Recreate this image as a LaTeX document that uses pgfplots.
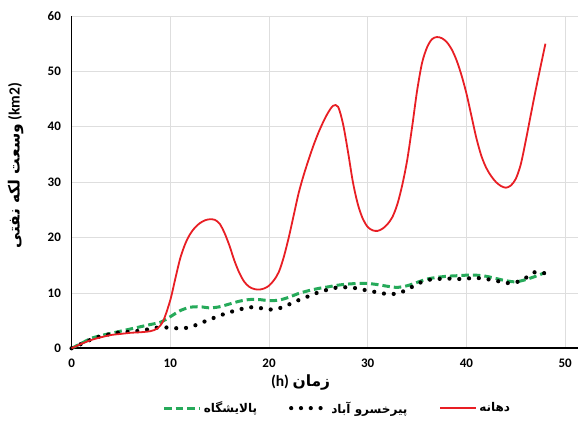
\documentclass[border=0pt]{standalone}
\usepackage{fontspec}
\setmainfont{Carlito}
\newfontfamily\fa[Script=Arabic]{DejaVu Sans}
\TeXXeTstate=1
\usepackage{pgfplots}
\pgfplotsset{compat=1.18}

\definecolor{redline}{RGB}{232,30,36}
\definecolor{greenline}{RGB}{38,170,90}
\definecolor{gridgray}{RGB}{222,222,222}

\begin{document}
\begin{tikzpicture}
\begin{axis}[
  scale only axis,
  width=506pt, height=332pt,
  xmin=0, xmax=51.3, ymin=0, ymax=60,
  xtick={0,10,...,50}, ytick={0,10,...,60},
  axis lines=left,
  axis line style={-, line width=1.6pt, black},
  tick style={draw=none},
  grid=major,
  major grid style={draw=gridgray, line width=0.8pt},
  /pgf/number format/assume math mode=true,
  tick label style={font=\fontsize{13}{15}\selectfont\bfseries, black},
  xticklabel style={yshift=-5pt},
  yticklabel style={xshift=-5pt},
  clip=false,
  legend columns=3,
  legend style={at={(0.525,-0.18)}, anchor=center, draw=none, fill=none,
    font=\fontsize{12}{14}\selectfont\bfseries,
    /tikz/every even column/.append style={column sep=30pt}},
  legend image code/.code={\draw[#1] (0pt,0pt) -- (36pt,0pt);},
]
% refinery
\addplot[greenline, line width=3pt, dash pattern=on 7.5pt off 4pt, smooth] coordinates {
 (0,0) (1,0.9) (2,1.8) (3,2.3) (4,2.7) (5,3.1) (6,3.5) (7,3.9) (8,4.3) (9,4.7)
 (10,5.7) (11,6.8) (12,7.4) (13,7.5) (14,7.3) (15,7.5) (16,8.0) (17,8.5) (18,8.8)
 (19,8.8) (20,8.6) (21,8.7) (22,9.2) (23,9.9) (24,10.4) (25,10.8) (26,11.1) (27,11.4)
 (28,11.6) (29,11.7) (30,11.7) (31,11.5) (32,11.2) (33,11.0) (34,11.3) (35,11.9)
 (36,12.5) (37,12.8) (38,13.0) (39,13.1) (40,13.2) (41,13.2) (42,13.0) (43,12.6)
 (44,12.2) (45,12.0) (46,12.4) (47,13.0) (48,13.7)
};
\addlegendentry{{\fa\beginR پالایشگاه\endR}}
% Pirkhosro Abad
\addplot[black, line width=4.2pt, line cap=round, dash pattern=on 0pt off 9.8pt, smooth] coordinates {
 (0,0) (1,0.8) (2,1.6) (3,2.2) (4,2.6) (5,2.9) (6,3.0) (7,3.2) (8,3.5) (9,3.8)
 (10,3.7) (11,3.6) (12,3.8) (13,4.5) (14,5.2) (15,5.9) (16,6.5) (17,7.0) (18,7.4)
 (19,7.3) (20,7.0) (21,7.2) (22,7.9) (23,8.7) (24,9.4) (25,10.1) (26,10.6) (27,11.0)
 (28,11.0) (29,10.8) (30,10.4) (31,10.1) (32,9.8) (33,9.9) (34,10.6) (35,11.6)
 (36,12.3) (37,12.5) (38,12.6) (39,12.5) (40,12.6) (41,12.7) (42,12.5) (43,12.2)
 (44,11.8) (45,11.9) (46,12.7) (47,13.8) (48,13.5)
};
\addlegendentry{{\fa\beginR پیرخسرو آباد\endR}}
% river mouth
\addplot[redline, line width=1.8pt, smooth] coordinates {
 (0,0) (1,0.8) (2,1.5) (3,2.0) (4,2.4) (5,2.6) (6,2.8) (7,2.9) (8,3.1) (8.7,3.6)
 (9.3,5) (10,8.7) (10.5,12.5) (11,16.2) (11.5,18.8) (12,20.6) (12.5,21.8) (13,22.6)
 (13.5,23.1) (14,23.3) (14.5,23.2) (15,22.5) (15.5,20.8) (16,18.5) (16.5,15.8)
 (17,13.6) (17.5,12) (18,11.1) (18.5,10.7) (19,10.6) (19.5,10.8) (20,11.3)
 (20.5,12.3) (21,13.8) (21.5,16.5) (22,20) (22.5,24) (23,28) (23.5,31.2) (24,34)
 (24.5,36.6) (25,38.9) (25.5,40.9) (26,42.6) (26.5,43.8) (27,43.6) (27.5,40.5)
 (28,35.5) (28.5,30) (29,26) (29.5,23.4) (30,21.9) (30.5,21.3) (31,21.2)
 (31.5,21.6) (32,22.4) (32.5,23.7) (33,26) (33.5,29.5) (34,34) (34.5,40)
 (35,46.5) (35.5,51.5) (36,54.3) (36.5,55.8) (37,56.2) (37.5,56.0) (38,55.3)
 (38.5,54.0) (39,52.0) (39.5,49.3) (40,46.0) (40.5,42.0) (41,38.0) (41.5,34.8)
 (42,32.6) (42.5,31.1) (43,30.0) (43.5,29.3) (44,29.0) (44.5,29.4) (45,30.6)
 (45.5,33.2) (46,37.4) (46.5,42) (47,46.5) (47.5,50.8) (48,55)
};
\addlegendentry{{\fa\beginR دهانه\endR}}

\node[font=\fontsize{15.5}{17}\selectfont\bfseries, anchor=center]
  at ([yshift=-34pt]axis cs:23.2,0) {(h) {\fa\beginR زمان\endR}};
\node[font=\fontsize{15.5}{17}\selectfont\bfseries, rotate=90, anchor=center]
  at ([xshift=-56pt]axis cs:0,33) {{\fa\beginR وسعت لکه نفتی\endR} (km2)};
\end{axis}
\path[use as bounding box] ([xshift=-71.5pt,yshift=-73pt]current axis.south west)
  rectangle ([xshift=1pt,yshift=16pt]current axis.north east);
\end{tikzpicture}
\end{document}
